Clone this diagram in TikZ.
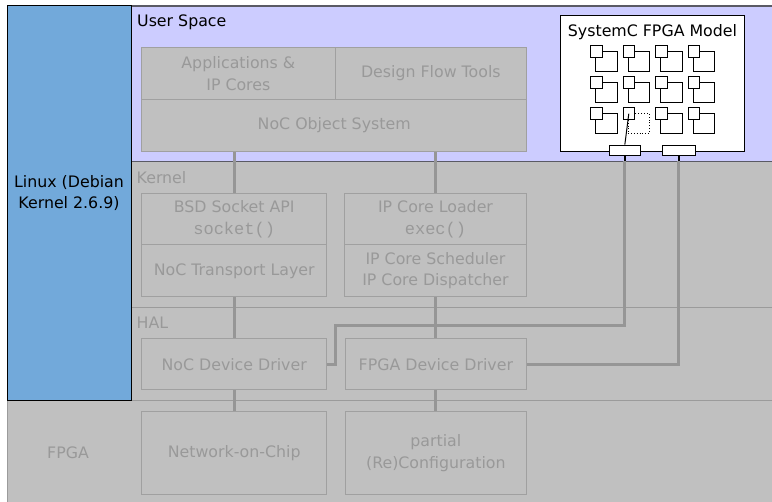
\documentclass[tikz,border=0pt]{standalone}
\usepackage{fontspec}
\setmainfont{DejaVu Sans}
\setmonofont{Liberation Mono}
\definecolor{bggray}{RGB}{192,192,192}
\definecolor{lav}{RGB}{204,204,255}
\definecolor{linuxblue}{RGB}{114,169,218}
\definecolor{boxgray}{RGB}{160,160,160}
\definecolor{txtgray}{RGB}{153,153,153}
\definecolor{conngray}{RGB}{150,150,150}
\definecolor{bandgray}{RGB}{155,155,155}
\definecolor{topgray}{RGB}{90,90,100}
\begin{document}
\begin{tikzpicture}[x=1pt,y=-1pt,
  every node/.style={font=\fontsize{15.8}{21.5}\selectfont, inner sep=0pt},
  gbox/.style={draw=boxgray, fill=bggray, line width=1pt, text=txtgray, align=center},
  conn/.style={draw=conngray, line width=3pt},
  stub/.style={draw=black, line width=2pt},
  bandline/.style={draw=bandgray, line width=1pt},
  layerlbl/.style={anchor=west, text=txtgray},
  modbig/.style={draw=black, fill=white, line width=0.9pt, minimum width=21.7, minimum height=20, anchor=north west},
  modsmall/.style={draw=black, fill=white, line width=0.9pt, minimum width=11.7, minimum height=11.7, anchor=north west},
  portbox/.style={draw=black, fill=white, line width=0.9pt, minimum height=10.7}]
\useasboundingbox (0,0) rectangle (772,502);
% background layers
\fill[bggray] (7,6) rectangle (772,502);
\draw[bandline] (7,502) -- (7,6);
\fill[lav] (131.5,6) rectangle (772,161.5);
\draw[draw=topgray, line width=1.2pt] (131.5,6) -- (772,6);
\draw[draw=topgray, line width=1.2pt] (131.5,161.5) -- (772,161.5);
\coordinate (ukl) at (131.5,161.5);
\draw[bandline] (131.5,307.3) -- (772,307.3);
\draw[bandline] (7,401) -- (772,401);
% linux panel
\node[fill=linuxblue, draw=black, line width=1pt, minimum width=124.5, minimum height=395] (linux) at (69.25,203.5) {};
\node[align=center] (linuxtxt) at (69,193) {Linux (Debian\\Kernel 2.6.9)};
% layer labels
\node[anchor=west] (uslbl) at (137,22) {User Space};
\node[layerlbl] (kernlbl) at (136.5,178) {Kernel};
\node[layerlbl] (hallbl) at (136.5,322.7) {HAL};
\node[text=txtgray] (fpgalbl) at (68,453) {FPGA};
% boxes
\node[gbox, minimum width=193.3, minimum height=51.6] (apps) at (238.35,73.5) {Applications \&\\IP Cores};
\node[gbox, minimum width=191.7, minimum height=51.6] (dft) at (430.85,73.5) {Design Flow Tools};
\node[gbox, minimum width=385, minimum height=52.4] (nocos) at (334.2,125.5) {NoC Object System};
\node[gbox, minimum width=185, minimum height=51.7] (bsd) at (234.2,219.15) {BSD Socket API\\{\ttfamily\fontsize{17}{21.5}\selectfont socket()}};
\node[gbox, minimum width=185, minimum height=51.7] (transport) at (234.2,270.85) {NoC Transport Layer};
\node[gbox, minimum width=182.4, minimum height=51.7] (loader) at (435.5,219.15) {IP Core Loader\\{\ttfamily\fontsize{17}{21.5}\selectfont exec()}};
\node[gbox, minimum width=182.4, minimum height=51.7] (sched) at (435.5,270.85) {IP Core Scheduler\\IP Core Dispatcher};
\node[gbox, minimum width=185, minimum height=51.7] (nocdd) at (234.2,364.15) {NoC Device Driver};
\node[gbox, minimum width=181.7, minimum height=51.7] (fpgadd) at (435.85,364.15) {FPGA Device Driver};
\node[gbox, minimum width=185, minimum height=82.6] (nocchip) at (234.2,453) {Network-on-Chip};
\node[gbox, minimum width=181.7, minimum height=82.6] (partial) at (435.85,453) {partial\\(Re)Configuration};
% SystemC model
\node[draw=black, fill=white, line width=1pt, minimum width=184, minimum height=136] (model) at (652,84) {};
\node (modeltitle) at (652.5,31.7) {SystemC FPGA Model};
\foreach \i in {0,...,3} {
  \foreach \j in {0,...,2} {
    \ifnum\i\j=12
      \node[modbig, dotted] (big-\i-\j) at ({590+32.5*\i+5},{45+31.2*\j+5.7}) {};
    \else
      \node[modbig] (big-\i-\j) at ({590+32.5*\i+5},{45+31.2*\j+5.7}) {};
    \fi
    \node[modsmall] (small-\i-\j) at ({590+32.5*\i},{45+31.2*\j}) {};
  }
}
\node[portbox, minimum width=31.7] (port1) at (624.85,150.35) {};
\node[portbox, minimum width=32.3] (port2) at (678.85,150.35) {};
\draw[line width=1pt] (small-1-2.center) -- (port1.north);
% connectors
\draw[conn] (bsd.north) -- (bsd.north |- nocos.south);
\draw[conn] (loader.north) -- (loader.north |- nocos.south);
\draw[conn] (transport.south) -- (nocdd.north);
\draw[conn] (nocdd.south) -- (nocchip.north);
\draw[conn] (sched.south) -- (sched.south |- fpgadd.north);
\draw[conn] (fpgadd.south) -- (fpgadd.south |- partial.north);
\coordinate (j1) at (335,326);
\draw[conn] (nocdd.east) -| (j1) -| (port1.south |- ukl);
\draw[conn] (fpgadd.east) -| (port2.south |- ukl);
\draw[stub] (port1.south) -- (port1.south |- ukl);
\draw[stub] (port2.south) -- (port2.south |- ukl);
\end{tikzpicture}
\end{document}
